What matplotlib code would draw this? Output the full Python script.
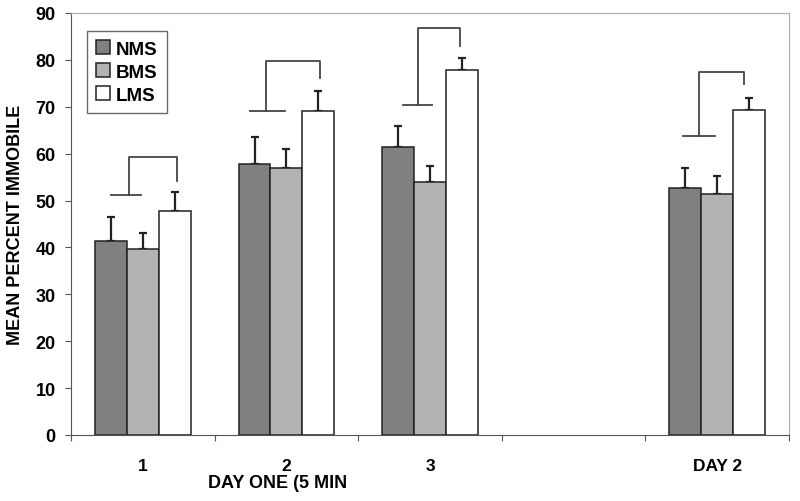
import numpy as np
import matplotlib.pyplot as plt

plt.rcParams['font.family'] = ['Liberation Sans', 'DejaVu Sans']

# data
categories = ["1", "2", "3", "", "DAY 2"]
groups = ["NMS", "BMS", "LMS"]
nms = [41.4, 57.9, 61.4, np.nan, 52.7]
bms = [39.7, 56.9, 53.9, np.nan, 51.3]
lms = [47.8, 69.2, 77.8, np.nan, 69.3]
nms_err = [5.0, 5.6, 4.4, np.nan, 4.2]
bms_err = [3.4, 4.0, 3.5, np.nan, 3.9]
lms_err = [4.0, 4.2, 2.6, np.nan, 2.6]
colors = ["#808080", "#b3b3b3", "#ffffff"]

# significance brackets: category, base line y, top y, drop end y
br_cat = [0, 1, 2, 4]
br_low = [51.2, 69.0, 70.4, 63.8]
br_top = [59.2, 79.8, 86.8, 77.4]
br_end = [54.2, 76.1, 82.9, 74.9]
br_base = [(-0.22, -0.01), (-0.255, -0.01), (-0.19, 0.015), (-0.24, -0.017)]
br_stem = [-0.094, -0.139, -0.083, -0.126]
br_right = [0.24, 0.233, 0.212, 0.185]

fig = plt.figure(figsize=(8, 5.02), dpi=100)
ax = fig.add_axes([71/800, 1-436/502, 718/800, 422/502])

x = np.arange(len(categories))
w = 0.2215
for i, (vals, errs) in enumerate([(nms, nms_err), (bms, bms_err), (lms, lms_err)]):
    ax.bar(x + (i-1)*w, vals, w, color=colors[i], edgecolor="#222222",
           linewidth=1.1, label=groups[i], zorder=2)
    ax.errorbar(x + (i-1)*w, vals, yerr=[np.zeros(len(x)), errs], fmt="none",
                ecolor="#222222", elinewidth=1.6, capsize=3, capthick=1.6, zorder=1)

for c, lo, top, end, base, st, rt in zip(br_cat, br_low, br_top, br_end, br_base, br_stem, br_right):
    ax.plot([c+base[0], c+base[1]], [lo, lo], color="#444444", lw=1.3)
    ax.plot([c+st, c+st, c+rt, c+rt], [lo, top, top, end], color="#444444", lw=1.3)

ax.set_xlim(-0.5, 4.5)
ax.set_ylim(0, 90)
ax.set_yticks(range(0, 91, 10))
ax.set_yticklabels([str(v) for v in range(0, 91, 10)], fontsize=13, fontweight="bold")
ax.set_xticks(np.arange(-0.5, 4.6, 1))
ax.set_xticklabels([])
ax.set_xticks(x, minor=True)
ax.set_xticklabels(categories, minor=True, fontsize=12.5, fontweight="bold")
ax.tick_params(axis="x", which="minor", length=0, pad=16.5)
ax.tick_params(axis="x", which="major", length=4, color="#555555", direction="out")
ax.tick_params(axis="y", length=4, color="#555555", direction="out", pad=7)

fig.text(278/800, 1-484/502, "DAY ONE (5 MIN", ha="center", va="center",
         fontsize=13, fontweight="bold")
fig.text(15.5/800, 1-225/502, "MEAN PERCENT IMMOBILE", rotation=90,
         ha="center", va="center", fontsize=13, fontweight="bold")

ax.spines["left"].set_color("#555555")
ax.spines["bottom"].set_color("#555555")
ax.spines["top"].set_color("#aaaaaa")
ax.spines["right"].set_color("#aaaaaa")

leg = ax.legend(loc="upper left", bbox_to_anchor=(0.0219, 0.958), frameon=True,
                fancybox=False, edgecolor="#444444",
                prop={"weight": "bold", "size": 13.5}, handlelength=0.75,
                handleheight=0.75, handletextpad=0.3, labelspacing=0.3,
                borderpad=0.5, borderaxespad=0)
leg.get_frame().set_linewidth(1.0)
for p in leg.get_patches():
    p.set_edgecolor("#222222")

fig.savefig("out.png", dpi=100)
